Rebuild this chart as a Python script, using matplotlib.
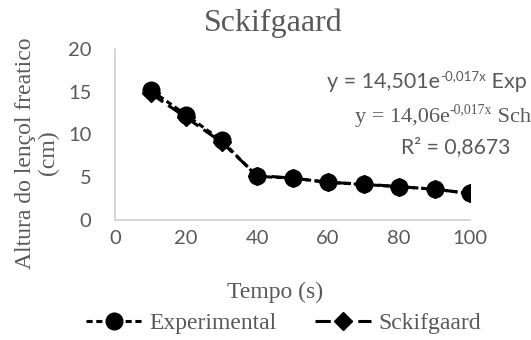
import matplotlib.pyplot as plt

# dados
tempo = [10, 20, 30, 40, 50, 60, 70, 80, 90, 100]
experimental = [15.2, 12.3, 9.3, 5.1, 4.9, 4.4, 4.15, 3.9, 3.6, 3.1]
sckifgaard = [14.8, 12.0, 9.1, 5.2, 4.9, 4.4, 4.2, 3.9, 3.6, 3.1]
yticks = [0, 5, 10, 15, 20]
xticks = [0, 20, 40, 60, 80, 100]

cinza = "#595959"
serif = "Liberation Serif"
sans = "Lato"

fig = plt.figure(figsize=(5.31, 3.40), dpi=100)
ax = fig.add_axes([0.2166, 0.353, 0.6686, 0.503])

ax.plot(tempo, sckifgaard, color="black", linestyle=(0, (5, 2)), linewidth=2.2,
        marker="D", markersize=9, label="Sckifgaard", zorder=2)
ax.plot(tempo, experimental, color="black", linestyle=(0, (2, 1.2)), linewidth=2.2,
        marker="o", markersize=12, label="Experimental", zorder=3)

ax.set_xlim(0, 100)
ax.set_ylim(0, 20)
ax.set_xticks(xticks)
ax.set_yticks(yticks)
for lab in ax.get_xticklabels() + ax.get_yticklabels():
    lab.set_fontfamily(sans)
    lab.set_fontsize(14.5)
    lab.set_color(cinza)
ax.tick_params(length=0, pad=7)
ax.tick_params(axis="y", pad=17)

for s in ["top", "right"]:
    ax.spines[s].set_visible(False)
for s in ["left", "bottom"]:
    ax.spines[s].set_color("#d0d0d0")
    ax.spines[s].set_linewidth(1.2)

fig.text(0.515, 0.932, "Sckifgaard", ha="center", va="center",
         family=serif, fontsize=23, color=cinza)
fig.text(0.518, 0.141, "Tempo (s)", ha="center", va="center",
         family=serif, fontsize=17, color=cinza)
fig.text(0.07, 0.55, "Altura do lençol freatico\n(cm)", ha="center", va="center",
         rotation=90, family=serif, fontsize=17, color=cinza, linespacing=1.1)


def equacao(x, y, base, expo, fim, family, size):
    # texto com expoente montado em três partes
    t1 = fig.text(x, y, base, ha="left", va="bottom", family=family,
                  fontsize=size, color=cinza)
    t2 = ax.annotate(expo, xy=(1, 0), xycoords=t1, xytext=(0.3, size * 0.5),
                     textcoords="offset points", ha="left", va="bottom",
                     family=family, fontsize=size * 0.62, color=cinza,
                     annotation_clip=False)
    ax.annotate(fim, xy=(1, 0), xycoords=(t2, t1), xytext=(0, 0),
                textcoords="offset points", ha="left", va="bottom",
                family=family, fontsize=size, color=cinza, annotation_clip=False)


# equações das linhas de tendência
equacao(0.615, 0.728, "y = 14,501e", "-0,017x", " Exp", sans, 15.5)
equacao(0.668, 0.626, "y = 14,06e", "-0,017x", " Sch", serif, 16)
fig.text(0.961, 0.568, "R² = 0,8673", ha="right", va="center",
         family=sans, fontsize=15.2, color=cinza)

handles, labels = ax.get_legend_handles_labels()
leg = fig.legend(handles[::-1], labels[::-1], loc="center", bbox_to_anchor=(0.534, 0.05),
                 ncol=2, frameon=False, handlelength=2.4, columnspacing=1.6,
                 handletextpad=0.3, prop={"family": serif, "size": 17})
for t in leg.get_texts():
    t.set_color(cinza)

fig.savefig("out.png", dpi=100)
